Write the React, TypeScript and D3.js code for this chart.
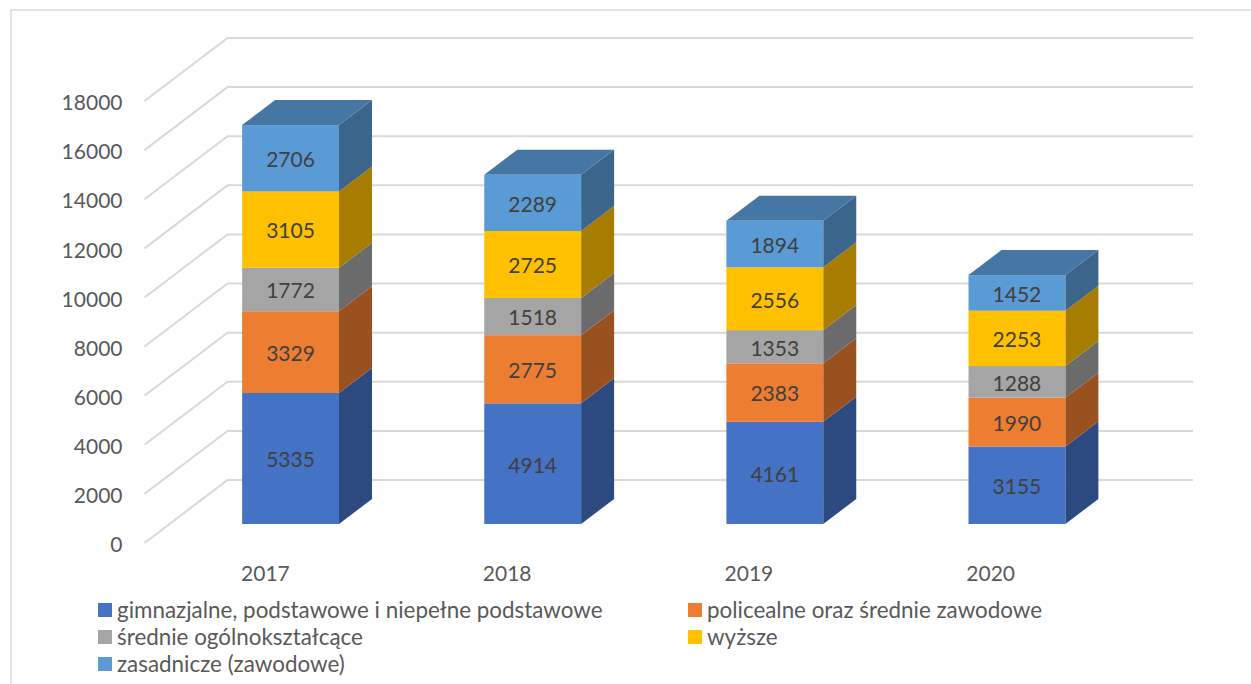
import React, { useEffect, useRef } from 'react';
import * as d3 from 'd3';

const years = ['2017', '2018', '2019', '2020'];
const gimnazjalne = [5335, 4914, 4161, 3155];
const policealne = [3329, 2775, 2383, 1990];
const ogolnoksztalcace = [1772, 1518, 1353, 1288];
const wyzsze = [3105, 2725, 2556, 2253];
const zasadnicze = [2706, 2289, 1894, 1452];

const seriesNames = [
  'gimnazjalne, podstawowe i niepełne podstawowe',
  'policealne oraz średnie zawodowe',
  'średnie ogólnokształcące',
  'wyższe',
  'zasadnicze (zawodowe)'
];
const seriesValues = [gimnazjalne, policealne, ogolnoksztalcace, wyzsze, zasadnicze];
const seriesColors = ['#4472c4', '#ed7d31', '#a5a5a5', '#ffc000', '#5b9bd5'];
const yTicks = [0, 2000, 4000, 6000, 8000, 10000, 12000, 14000, 16000, 18000];

const FONT = 'Lato, "Open Sans", sans-serif';
const GRID = '#d9d9d9';

// shade a colour the way the 3D side and top faces do
const shade = (color, k) => {
  const c = d3.rgb(color);
  return d3.rgb(c.r * k, c.g * k, c.b * k).formatHex();
};

const App = () => {
  const svgRef = useRef(null);

  useEffect(() => {
    const svg = d3.select(svgRef.current);
    svg.selectAll('*').remove();

    // front plane of the 3D box, used by the axis labels
    const xAxisScale = d3.scaleBand().domain(years).range([144.5, 1111.5]);
    const yScale = d3.scaleLinear().domain([0, 18000]).range([543, 101]);

    // bars stand a little behind the front plane
    const xScale = d3.scaleBand().domain(years).range([169.5, 1138]).paddingInner(0.6).paddingOuter(0.3);
    const barLift = -19;
    const barDepth = { dx: 33, dy: -25 };

    // side wall depth and where the back wall ends
    const wall = { dx: 83, dy: -63 };
    const gridRight = 1193;

    // chart frame, cut by the page on the right and bottom
    svg.append('path')
      .attr('d', 'M11,684V10H1251')
      .attr('fill', 'none')
      .attr('stroke', GRID)
      .attr('stroke-width', 1.5);

    // gridlines: along the side wall, then along the back wall
    svg.append('g')
      .selectAll('path')
      .data(yTicks)
      .join('path')
      .attr('d', d => {
        const line = d3.path();
        line.moveTo(xAxisScale.range()[0], yScale(d));
        line.lineTo(xAxisScale.range()[0] + wall.dx, yScale(d) + wall.dy);
        line.lineTo(gridRight, yScale(d) + wall.dy);
        return line.toString();
      })
      .attr('fill', 'none')
      .attr('stroke', GRID)
      .attr('stroke-width', 2);

    // stack the series
    const rows = years.map((year, i) => {
      const row = { year };
      seriesNames.forEach((name, s) => { row[name] = seriesValues[s][i]; });
      return row;
    });
    const stacked = d3.stack().keys(seriesNames)(rows);

    const bars = svg.append('g');
    stacked.forEach((layer, s) => {
      const color = seriesColors[s];
      layer.forEach(d => {
        const x0 = xScale(d.data.year);
        const x1 = x0 + xScale.bandwidth();
        const y0 = yScale(d[0]) + barLift;
        const y1 = yScale(d[1]) + barLift;
        const g = bars.append('g');

        // side face
        g.append('polygon')
          .attr('points', [
            [x1, y0], [x1 + barDepth.dx, y0 + barDepth.dy],
            [x1 + barDepth.dx, y1 + barDepth.dy], [x1, y1]
          ].join(' '))
          .attr('fill', shade(color, 0.65));

        // top face only on the last series
        if (s === stacked.length - 1) {
          g.append('polygon')
            .attr('points', [
              [x0, y1], [x1, y1],
              [x1 + barDepth.dx, y1 + barDepth.dy], [x0 + barDepth.dx, y1 + barDepth.dy]
            ].join(' '))
            .attr('fill', shade(color, 0.77));
        }

        // front face
        g.append('rect')
          .attr('x', x0)
          .attr('y', y1)
          .attr('width', x1 - x0)
          .attr('height', y0 - y1)
          .attr('fill', color);

        // value label
        g.append('text')
          .attr('x', (x0 + x1) / 2)
          .attr('y', (y0 + y1) / 2 + 1.5)
          .attr('dy', '0.35em')
          .attr('text-anchor', 'middle')
          .attr('font-family', FONT)
          .attr('font-size', 21)
          .attr('fill', '#404040')
          .text(d[1] - d[0]);
      });
    });

    // y axis labels
    const yAxis = svg.append('g')
      .attr('transform', `translate(${xAxisScale.range()[0]},2)`)
      .call(d3.axisLeft(yScale).tickValues(yTicks).tickFormat(d3.format('d')).tickSize(0).tickPadding(22));
    yAxis.select('.domain').remove();
    yAxis.selectAll('text')
      .attr('font-family', FONT)
      .attr('font-size', 21)
      .attr('fill', '#595959');

    // x axis labels
    const xAxis = svg.append('g')
      .attr('transform', `translate(0,${yScale(0)})`)
      .call(d3.axisBottom(xAxisScale).tickSize(0).tickPadding(23));
    xAxis.select('.domain').remove();
    xAxis.selectAll('text')
      .attr('font-family', FONT)
      .attr('font-size', 21)
      .attr('fill', '#595959');

    // legend: two columns, filled row by row
    const legendX = [98, 688];
    const legendY = [610, 637, 664];
    const legend = svg.append('g')
      .selectAll('g')
      .data(seriesNames)
      .join('g')
      .attr('transform', (d, i) => `translate(${legendX[i % 2]},${legendY[Math.floor(i / 2)]})`);
    legend.append('rect')
      .attr('x', 0)
      .attr('y', -7)
      .attr('width', 14)
      .attr('height', 14)
      .attr('fill', (d, i) => seriesColors[i]);
    legend.append('text')
      .attr('x', 19)
      .attr('dy', '0.35em')
      .attr('font-family', FONT)
      .attr('font-size', 22.4)
      .attr('fill', '#595959')
      .text(d => d);
  }, []);

  return (
    <svg
      ref={svgRef}
      width={1251}
      height={684}
      style={{ position: 'absolute', left: 0, top: 0, background: '#ffffff' }}
    />
  );
};

export default App;
